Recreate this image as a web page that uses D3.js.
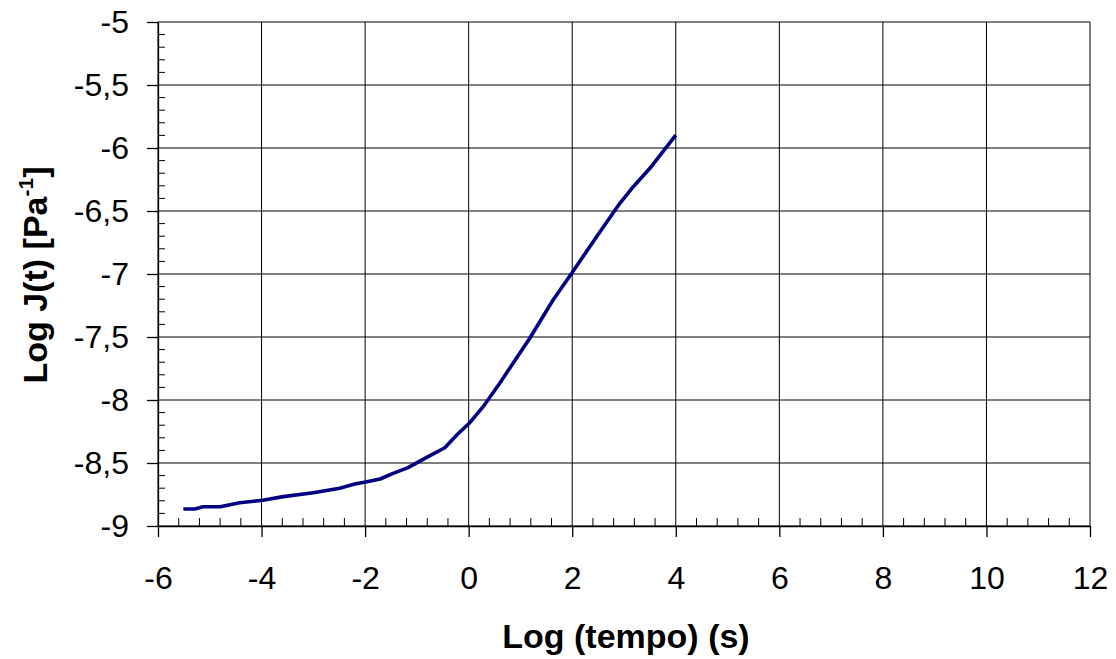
<!DOCTYPE html>
<html lang="en">
<head>
    <meta charset="UTF-8">
    <title>Log J(t)</title>
    <script src="https://d3js.org/d3.v7.min.js"></script>
    <style>
        body { margin: 0; background: #fff; font-family: "Liberation Sans", Arial, sans-serif; }
        .tick text { font-family: "Liberation Sans", Arial, sans-serif; font-size: 32px; fill: #000; }
        .axis-title { font-family: "Liberation Sans", Arial, sans-serif; font-size: 34px; font-weight: bold; }
    </style>
</head>
<body>
<svg width="1116" height="659"></svg>
<script>
    // curve
    const logTempo = [-5.51, -5.29, -5.13, -4.80, -4.42, -3.98, -3.58, -3.00, -2.49, -2.20, -1.99, -1.71,
        -1.46, -1.17, -0.81, -0.46, -0.23, 0.01, 0.28, 0.60, 1.18, 1.63, 1.99, 2.47, 2.92, 3.18, 3.50, 4.00];
    const logJ = [-8.865, -8.865, -8.847, -8.847, -8.815, -8.796, -8.767, -8.736, -8.701, -8.667, -8.651, -8.627,
        -8.582, -8.537, -8.455, -8.379, -8.278, -8.185, -8.053, -7.867, -7.510, -7.206, -6.994, -6.704, -6.439, -6.307, -6.161, -5.897];

    const xTicks = [-6, -4, -2, 0, 2, 4, 6, 8, 10, 12];
    const yTicks = [-5, -5.5, -6, -6.5, -7, -7.5, -8, -8.5, -9];

    const svg = d3.select("svg"),
        margin = { top: 22, right: 26, bottom: 133, left: 158 },
        width = 1116 - margin.left - margin.right,
        height = 659 - margin.top - margin.bottom;

    const x = d3.scaleLinear().domain([-6, 12]).range([0, width]);
    const y = d3.scaleLinear().domain([-9, -5]).range([height, 0]);

    const g = svg.append("g").attr("transform", `translate(${margin.left},${margin.top})`);

    const fmt = d => String(d).replace(".", ",");

    // gridlines
    g.append("g").selectAll("line").data(xTicks).enter().append("line")
        .attr("x1", d => x(d)).attr("x2", d => x(d)).attr("y1", 0).attr("y2", height)
        .attr("stroke", "#000").attr("stroke-width", 1);
    g.append("g").selectAll("line").data(yTicks).enter().append("line")
        .attr("x1", 0).attr("x2", width).attr("y1", d => y(d)).attr("y2", d => y(d))
        .attr("stroke", "#000").attr("stroke-width", 1);

    // minor ticks (inside)
    const xMinor = d3.range(-6, 12.001, 0.4).filter(v => Math.abs(v / 2 - Math.round(v / 2)) > 0.01);
    g.append("g").selectAll("line").data(xMinor).enter().append("line")
        .attr("x1", d => x(d)).attr("x2", d => x(d)).attr("y1", height).attr("y2", height - 8)
        .attr("stroke", "#000");
    const yMinor = d3.range(-9, -4.999, 0.1).filter(v => Math.abs(v * 2 - Math.round(v * 2)) > 0.01);
    g.append("g").selectAll("line").data(yMinor).enter().append("line")
        .attr("x1", 0).attr("x2", 7).attr("y1", d => y(d)).attr("y2", d => y(d))
        .attr("stroke", "#000");

    // axes
    const xAxis = g.append("g").attr("transform", `translate(0,${height})`)
        .call(d3.axisBottom(x).tickValues(xTicks).tickFormat(fmt).tickSize(11).tickSizeOuter(0).tickPadding(29));
    const yAxis = g.append("g")
        .call(d3.axisLeft(y).tickValues(yTicks).tickFormat(fmt).tickSize(11).tickSizeOuter(0).tickPadding(18));
    [xAxis, yAxis].forEach(a => {
        a.selectAll("path, line").attr("stroke", "#000").attr("stroke-width", 1.3);
    });

    // curve
    const pts = logTempo.map((t, i) => [t, logJ[i]]);
    g.append("path").datum(pts)
        .attr("fill", "none").attr("stroke", "#000080").attr("stroke-width", 3.6)
        .attr("stroke-linejoin", "round")
        .attr("d", d3.line().x(d => x(d[0])).y(d => y(d[1])));

    // titles
    svg.append("text").attr("class", "axis-title")
        .attr("x", 626).attr("y", 648).attr("text-anchor", "middle")
        .text("Log (tempo) (s)");
    const yt = svg.append("text").attr("class", "axis-title")
        .attr("transform", "translate(47,275) rotate(-90)").attr("text-anchor", "middle");
    yt.append("tspan").text("Log J(t) [Pa");
    yt.append("tspan").attr("font-size", "21px").attr("dy", -14).text("-1");
    yt.append("tspan").attr("dy", 14).text("]");
</script>
</body>
</html>
